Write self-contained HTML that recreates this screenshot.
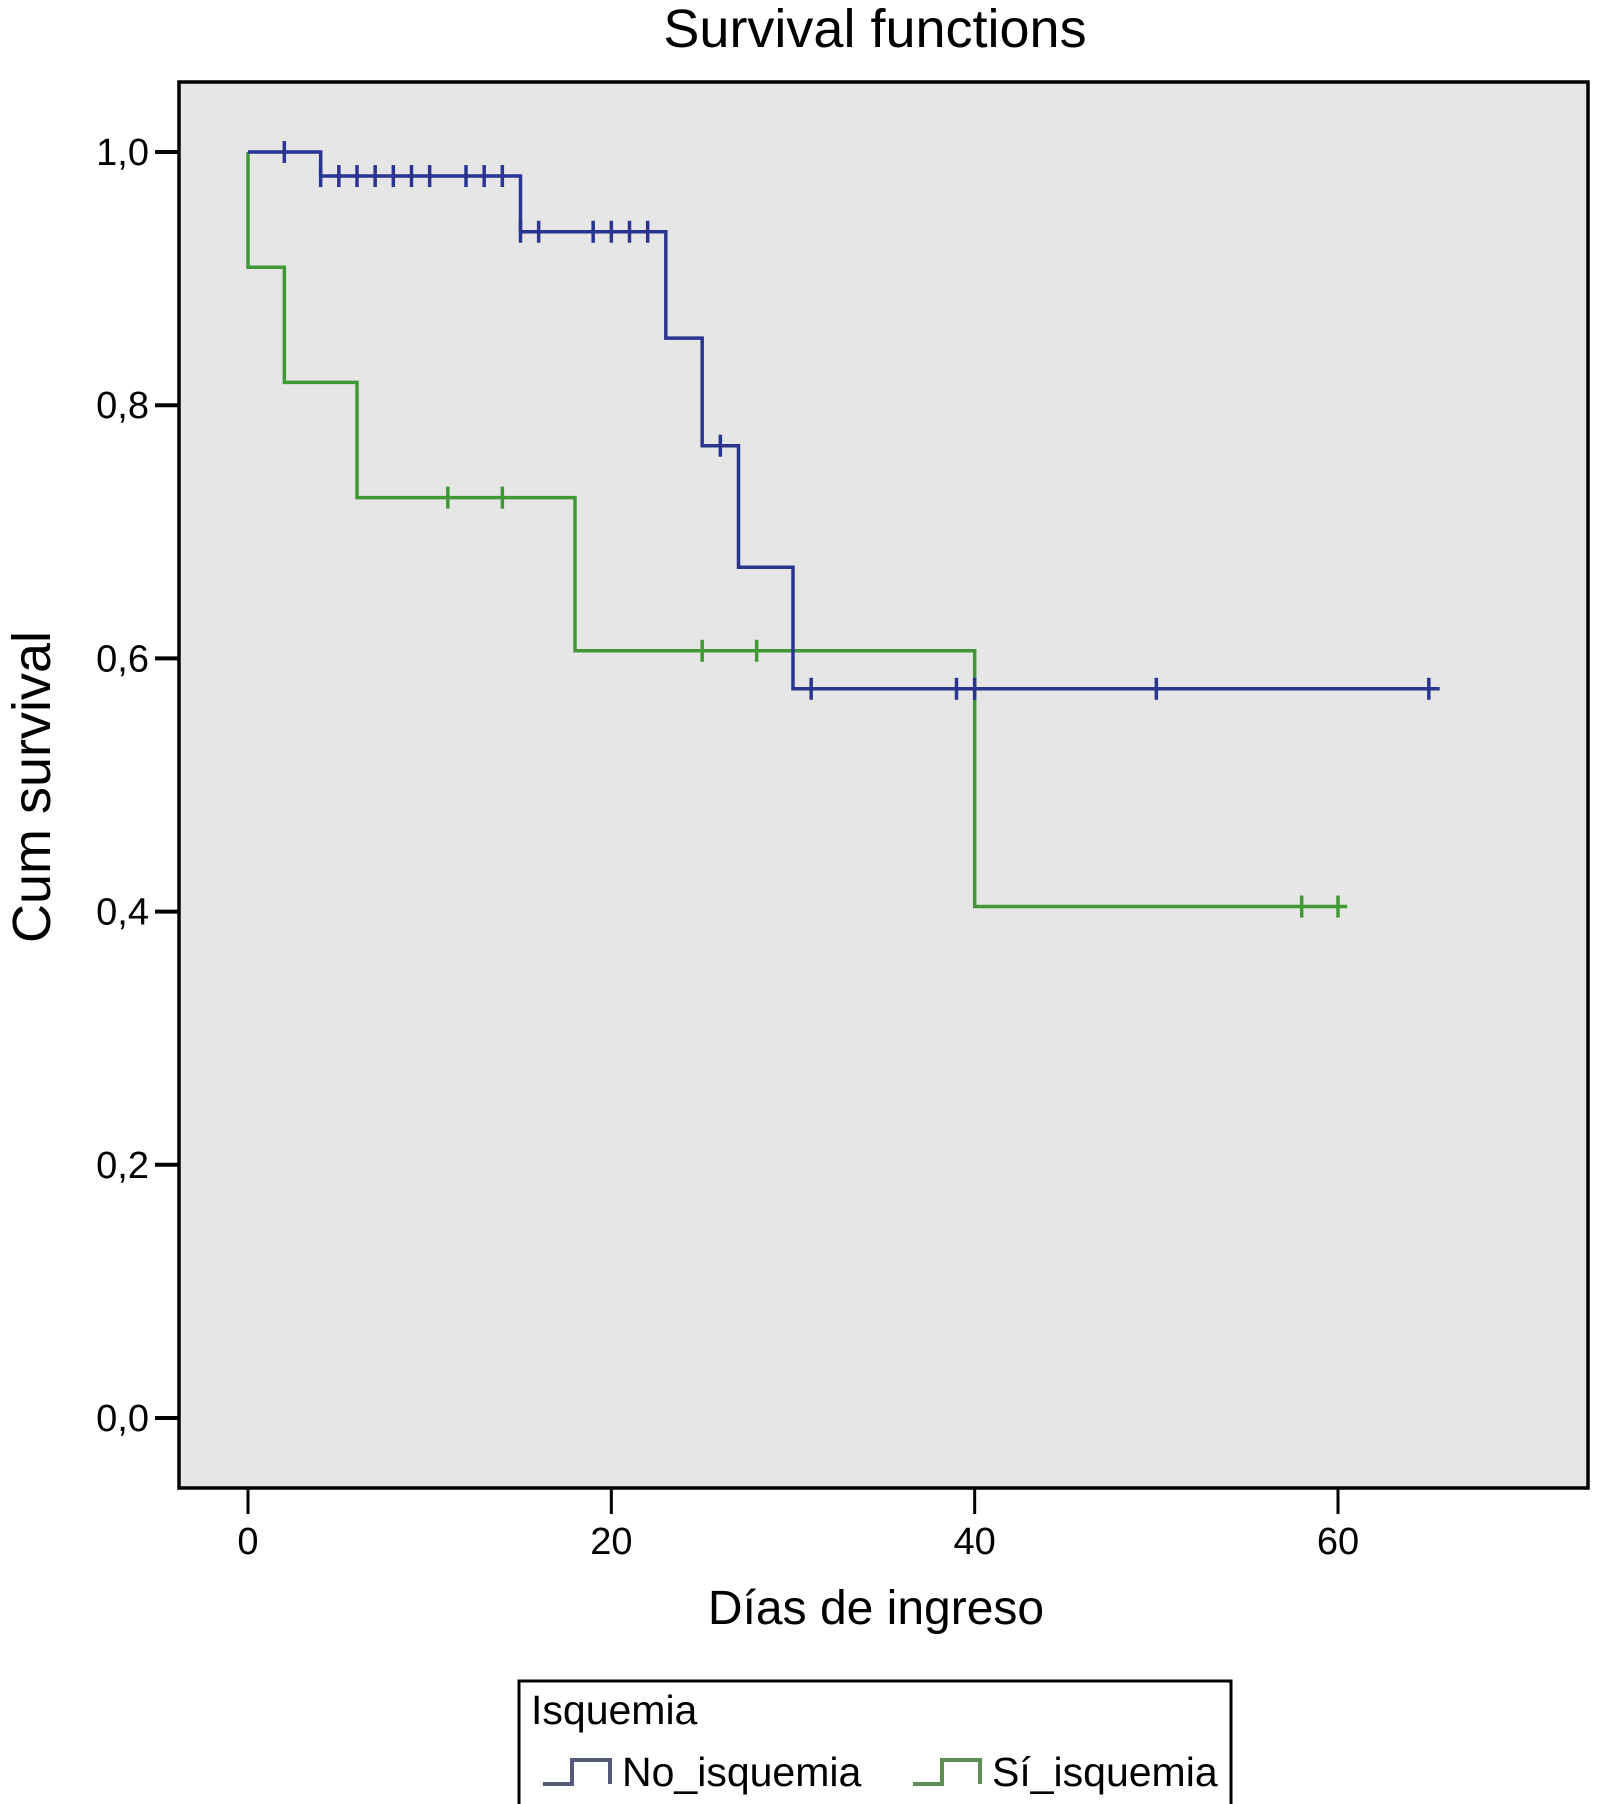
<!DOCTYPE html>
<html><head><meta charset="utf-8"><style>
html,body{margin:0;padding:0;background:#fff;}
svg{display:block;font-family:"Liberation Sans",Arial,sans-serif;}
</style></head><body>
<svg id="chart" width="1597" height="1804" viewBox="0 0 1597 1804">
<text x="875" y="47" font-size="54" text-anchor="middle">Survival functions</text>
<rect x="179" y="82" width="1409" height="1406" fill="#e6e6e6" stroke="#000" stroke-width="3.5"/>
<g id="axes"></g>
<g id="series"></g>
<text transform="translate(50,787) rotate(-90)" font-size="54" text-anchor="middle">Cum survival</text>
<text x="876" y="1624" font-size="48" text-anchor="middle">Días de ingreso</text>
<g>
<rect x="519" y="1681" width="712" height="125" fill="#fff" stroke="#000" stroke-width="3"/>
<text x="531" y="1724" font-size="41">Isquemia</text>
<path d="M543,1784 H572 V1760 H610 V1784" fill="none" stroke="#545a78" stroke-width="4"/>
<text x="622" y="1786" font-size="41">No_isquemia</text>
<path d="M913,1784 H942 V1760 H980 V1784" fill="none" stroke="#5d8f55" stroke-width="4"/>
<text x="992" y="1786" font-size="41">Sí_isquemia</text>
</g>
</svg>
<script>
const xTicks = [0, 20, 40, 60];
const yTicks = [0, 0.2, 0.4, 0.6, 0.8, 1.0];
const yTickLabels = ["0,0", "0,2", "0,4", "0,6", "0,8", "1,0"];
const noEventTimes = [4, 15, 23, 25, 27, 30];
const noSurvival = [0.981, 0.937, 0.853, 0.768, 0.672, 0.576];
const noCensored = [2, 4, 5, 6, 7, 8, 9, 10, 12, 13, 14, 15, 16, 19, 20, 21, 22, 26, 31, 39, 40, 50, 65];
const noEnd = 65.6;
const siEventTimes = [0, 2, 6, 18, 40];
const siSurvival = [0.909, 0.818, 0.727, 0.606, 0.404];
const siCensored = [11, 14, 25, 28, 58, 60];
const siEnd = 60.5;

const NS = "http://www.w3.org/2000/svg";
const X = d => 248 + (d - 0) * (1338 - 248) / 60;
const Y = v => 1418 - v * (1418 - 152);
const axes = document.getElementById('axes');
const series = document.getElementById('series');
function mk(tag, attrs, parent){const e=document.createElementNS(NS,tag);for(const k in attrs)e.setAttribute(k,attrs[k]);parent.appendChild(e);return e;}

yTicks.forEach((v,i)=>{
  const l=mk('line',{x1:155,x2:179,y1:Y(v),y2:Y(v),stroke:'#000','stroke-width':4},axes);
  
  
  const t=mk('text',{x:149,y:Y(v)+13,'font-size':38,'text-anchor':'end'},axes);
  t.textContent=yTickLabels[i];
  
  
});
xTicks.forEach(d=>{
  const l=mk('line',{x1:X(d),x2:X(d),y1:1488,y2:1514,stroke:'#000','stroke-width':3},axes);
  
  
  const t=mk('text',{x:X(d),y:1554,'font-size':38,'text-anchor':'middle'},axes);
  t.textContent=d;
  
  
});

function stepPath(times, surv, end){
  let d='M'+X(0)+','+Y(1);
  times.forEach((t,i)=>{ d+=' H'+X(t)+' V'+Y(surv[i]); });
  d+=' H'+X(end);
  return d;
}
function survAt(times, surv, t){let s=1;times.forEach((tt,i)=>{if(tt<=t)s=surv[i];});return s;}
function drawSeries(name, times, surv, cens, end, color){
  const p=mk('path',{d:stepPath(times,surv,end),fill:'none',stroke:color,'stroke-width':3.5},series);
  
  
  cens.forEach(t=>{
    const v=survAt(times,surv,t);
    const c=mk('line',{x1:X(t),x2:X(t),y1:Y(v)-11,y2:Y(v)+11,stroke:color,'stroke-width':3.5},series);
    
    
  });
}
drawSeries('si-isquemia', siEventTimes, siSurvival, siCensored, siEnd, '#3f9a36');
drawSeries('no-isquemia', noEventTimes, noSurvival, noCensored, noEnd, '#2a3590');
</script>
</body></html>
